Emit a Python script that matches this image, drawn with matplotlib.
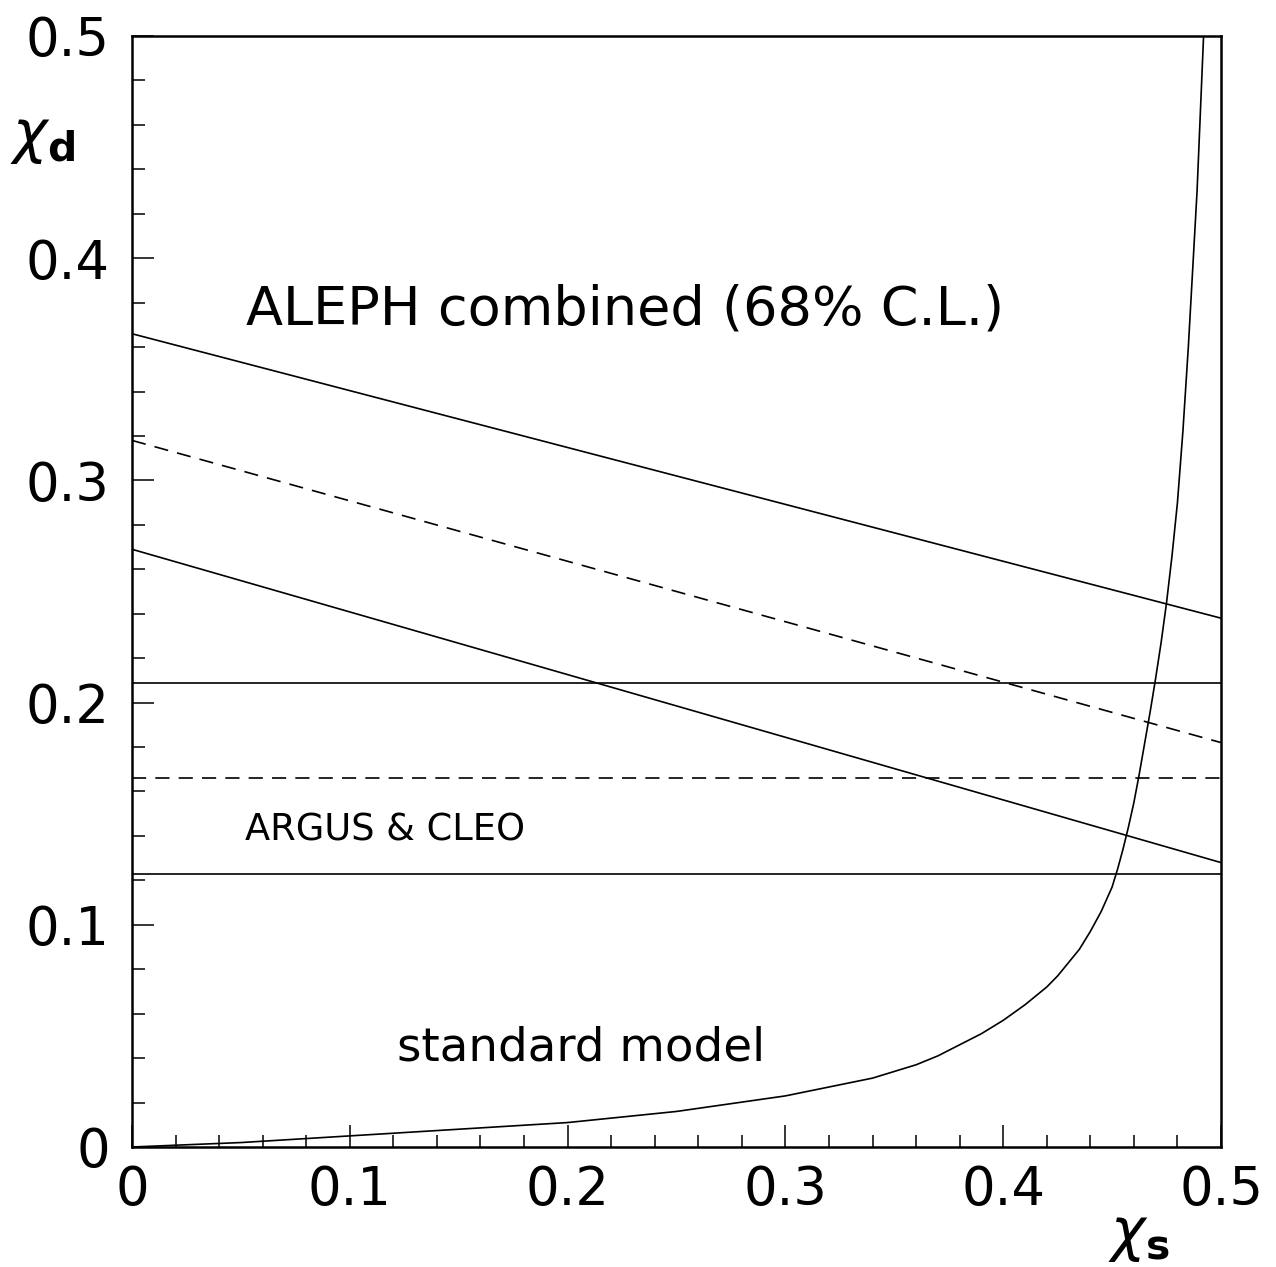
import numpy as np
import matplotlib
matplotlib.use("Agg")
import matplotlib.pyplot as plt
from matplotlib.ticker import MultipleLocator

plt.rcParams['font.family'] = ['DejaVu Sans']
plt.rcParams['mathtext.fontset'] = 'dejavusans'

# ALEPH combined band (68% C.L.): value at chi_s = 0 and chi_s = 0.5
aleph_x = [0.0, 0.5]
aleph_upper = [0.366, 0.238]
aleph_central = [0.318, 0.182]
aleph_lower = [0.269, 0.128]

# ARGUS & CLEO band (flat in chi_s)
argus_x = [0.0, 0.5]
argus_upper = [0.209, 0.209]
argus_central = [0.166, 0.166]
argus_lower = [0.123, 0.123]

# standard model curve
sm_chi_s = [0.0, 0.05, 0.10, 0.15, 0.20, 0.25, 0.30, 0.31, 0.32, 0.33, 0.34,
            0.35, 0.36, 0.37, 0.38, 0.39, 0.40, 0.41, 0.42, 0.425, 0.43,
            0.435, 0.44, 0.445, 0.45, 0.4525, 0.455, 0.4575, 0.46, 0.4625,
            0.465, 0.4675, 0.47, 0.4725, 0.475, 0.4775, 0.48, 0.4825, 0.485,
            0.487, 0.489, 0.4905, 0.492]
sm_chi_d = [0.0, 0.002, 0.005, 0.008, 0.011, 0.016, 0.023, 0.025, 0.027, 0.029, 0.031,
            0.034, 0.037, 0.041, 0.046, 0.051, 0.057, 0.064, 0.072, 0.077, 0.083,
            0.089, 0.097, 0.106, 0.117, 0.125, 0.134, 0.144, 0.155, 0.168,
            0.182, 0.196, 0.211, 0.227, 0.245, 0.266, 0.290, 0.322, 0.360,
            0.395, 0.430, 0.465, 0.500]

W, H = 1276, 1267
fig = plt.figure(figsize=(W / 100, H / 100), dpi=100)
ax_l, ax_r, ax_t, ax_b = 132, 1221, 36, 1147
ax = fig.add_axes([ax_l / W, 1 - ax_b / H, (ax_r - ax_l) / W, (ax_b - ax_t) / H])

lw = 1.2
dash = (8.5, 5.5)
ax.plot(aleph_x, aleph_upper, color='black', lw=lw)
ax.plot(aleph_x, aleph_central, color='black', lw=lw, dashes=dash)
ax.plot(aleph_x, aleph_lower, color='black', lw=lw)
ax.plot(argus_x, argus_upper, color='black', lw=lw)
ax.plot(argus_x, argus_central, color='black', lw=lw, dashes=dash)
ax.plot(argus_x, argus_lower, color='black', lw=lw)
ax.plot(sm_chi_s, sm_chi_d, color='black', lw=lw)

ax.set_xlim(0, 0.5)
ax.set_ylim(0, 0.5)

ax.xaxis.set_major_locator(MultipleLocator(0.1))
ax.xaxis.set_minor_locator(MultipleLocator(0.02))
ax.yaxis.set_major_locator(MultipleLocator(0.1))
ax.yaxis.set_minor_locator(MultipleLocator(0.02))

def fmt(v, pos=None):
    return '0' if abs(v) < 1e-9 else '%.1f' % v

ax.xaxis.set_major_formatter(plt.FuncFormatter(fmt))
ax.yaxis.set_major_formatter(plt.FuncFormatter(fmt))

ax.tick_params(which='both', direction='in', top=False, right=False,
               width=1.1, labelsize=38)
ax.tick_params(which='major', length=16)
ax.tick_params(which='minor', length=9)
ax.tick_params(axis='y', pad=16)
ax.tick_params(axis='x', pad=12)
for sp in ax.spines.values():
    sp.set_linewidth(1.8)

ax.text(0.0525, 0.377, 'ALEPH combined (68% C.L.)', fontsize=39,
        ha='left', va='center')
ax.text(0.052, 0.1427, 'ARGUS & CLEO', fontsize=26.5, ha='left', va='center')
ax.text(0.1218, 0.039, 'standard model', fontsize=33.7, ha='left', va='baseline')

fig.text(10 / W, 1 - 137 / H, r'$\chi_{\mathbf{d}}$', fontsize=42, ha='left', va='center')
fig.text(1108 / W, 1 - 1235 / H, r'$\chi_{\mathbf{s}}$', fontsize=42, ha='left', va='center')

fig.savefig('out.png', dpi=100)
